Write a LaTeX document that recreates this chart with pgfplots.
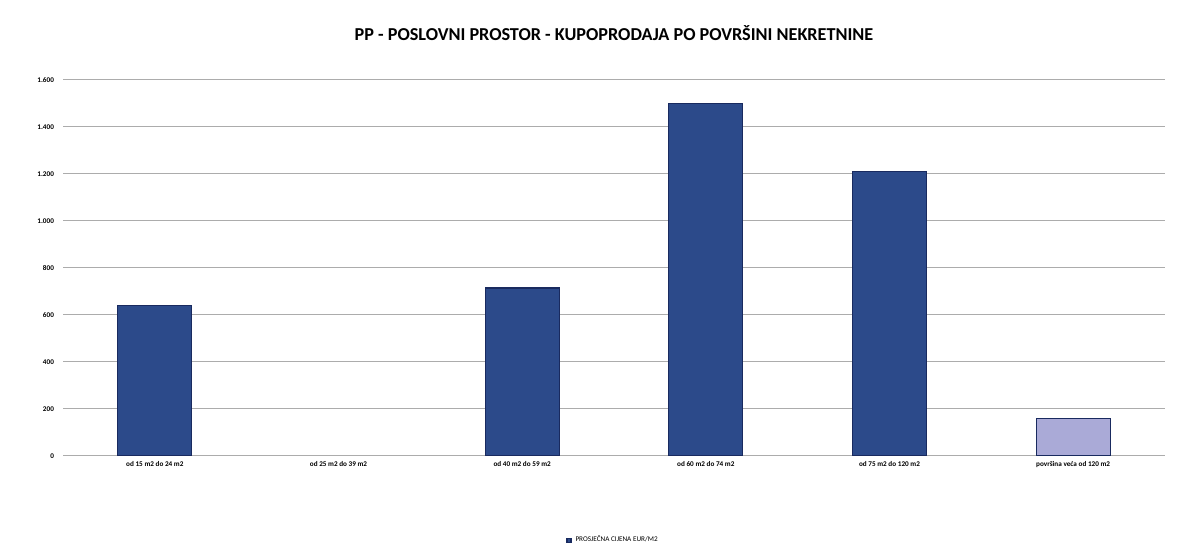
\documentclass[border=0pt]{standalone}
\usepackage{pgfplots}
\pgfplotsset{compat=1.18}
\usepackage{fontspec}
\setmainfont{Carlito}
\definecolor{barblue}{RGB}{44,74,138}
\definecolor{baredge}{RGB}{25,42,95}
\definecolor{barlav}{RGB}{170,170,215}
\begin{document}
\begin{tikzpicture}
\useasboundingbox (0,0) rectangle (589.5pt,280pt);
\fill[white] (0,0) rectangle (589.5pt,280pt);
\begin{axis}[
  at={(31.5pt,52pt)}, anchor=south west,
  scale only axis, width=551pt, height=188pt,
  ybar, bar width=37pt,
  xmin=-0.5, xmax=5.5, ymin=0, ymax=1600,
  ytick={0,200,...,1600},
  xtick={0,...,5},
  xticklabels={od 15 m2 do 24 m2, od 25 m2 do 39 m2, od 40 m2 do 59 m2, od 60 m2 do 74 m2, od 75 m2 do 120 m2, površina veća od 120 m2},
  axis line style={draw=none},
  major tick length=0pt,
  ymajorgrids, grid style={gray!65, line width=0.5pt},
  /pgf/number format/assume math mode=true,
  /pgf/number format/1000 sep={.},
  yticklabel style={font=\fontsize{3.6}{4}\selectfont\bfseries, xshift=-1pt},
  xticklabel style={font=\fontsize{3.6}{4}\selectfont\bfseries, yshift=1pt},
  title={\fontsize{9.1}{11}\selectfont\bfseries PP - POSLOVNI PROSTOR - KUPOPRODAJA PO POVRŠINI NEKRETNINE},
  title style={at={(0.5,1)}, anchor=south, yshift=10pt},
  legend style={at={(0.5,-0.19)}, anchor=north, draw=none, font=\fontsize{3.6}{4}\selectfont, legend cell align=left},
  legend image code/.code={\fill[#1] (0pt,-1pt) rectangle (2pt,1pt);},
]
\addplot[bar shift=0pt, fill=barblue, draw=baredge, line width=0.6pt] coordinates {(0,640) (2,715) (3,1500) (4,1210)};
\addlegendentry{PROSJEČNA CIJENA EUR/M2}
\addplot[bar shift=0pt, fill=barlav, draw=baredge, line width=0.6pt, forget plot] coordinates {(5,160)};
\end{axis}
\end{tikzpicture}
\end{document}
